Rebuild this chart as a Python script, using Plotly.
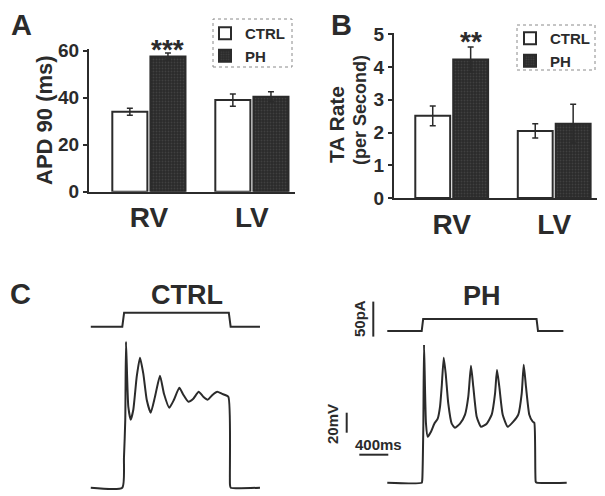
import plotly.graph_objects as go

W, H = 605, 496
OFF = 8  # page body margin of the viewer, compensated in layout positions
FONT = "Liberation Sans, Arial, sans-serif"
INK = "#2b2b2b"

# ---------------- data ----------------
regions = ["RV", "LV"]
groups = ["CTRL", "PH"]

apd_ctrl = [34.0, 39.0]
apd_ctrl_err = [1.5, 2.6]
apd_ph = [57.5, 40.4]
apd_ph_err = [1.5, 2.1]

ta_ctrl = [2.51, 2.05]
ta_ctrl_err = [0.30, 0.22]
ta_ph = [4.23, 2.27]
ta_ph_err = [0.38, 0.59]

apd_ticks = [0, 20, 40, 60]
ta_ticks = [0, 1, 2, 3, 4, 5]

# current-clamp traces (time in ms from step onset, Vm in mV above rest, I in pA)
ctrl_cmd_t = [-435, 0, 25, 1470, 1495, 1900]
ctrl_cmd_i = [0, 0, 20, 20, 0, 0]
ctrl_v_t = [-435, 0, 23, 41, 51, 83, 116, 152, 199, 244, 290, 337, 392, 451, 520, 575,
            649, 713, 787, 842, 911, 980, 1054, 1118, 1179, 1248, 1311, 1372, 1463,
            1486, 1496, 1900]
ctrl_v = [0, 0, 30, 68, 146, 81, 68, 78, 111, 130, 114, 88, 75, 91, 112, 94,
          80, 88, 100, 93, 86, 89, 96, 91, 88, 93, 96, 94, 91,
          3, 0, 0]

ph_cmd_t = [-475, 0, 20, 1585, 1605, 1955]
ph_cmd_i = [0, 0, 17, 17, 0, 0]
ph_v_t = [-475, 0, 8, 22, 32, 59, 83, 128, 174, 221, 253, 276, 304, 331, 367, 414,
          460, 529, 598, 643, 680, 712, 759, 818, 897, 966, 1012, 1039, 1071, 1118,
          1187, 1264, 1333, 1380, 1408, 1439, 1485, 1532, 1554, 1573, 1584, 2001]
ph_v = [0, 0, 3, 53, 139, 59, 46, 51, 59, 64, 76, 96, 125, 109, 79, 59,
        55, 59, 68, 86, 117, 96, 66, 56, 59, 68, 89, 113, 96, 68,
        56, 61, 68, 89, 118, 96, 68, 61, 60, 1, 0, 0]


# ---------------- helpers (pixel layout) ----------------
def pxx(x):
    return (x - OFF) / W


def pxy(y):
    return 1 - (y - OFF) / H


def xax(p0, p1, origin, ppu):
    return dict(domain=[pxx(p0), pxx(p1)], range=[(p0 - origin) / ppu, (p1 - origin) / ppu])


def yax(top, bottom, origin, ppu):
    return dict(domain=[pxy(bottom), pxy(top)], range=[(origin - bottom) / ppu, (origin - top) / ppu])


def bold(s):
    return dict(family=FONT, size=s, color=INK, weight="bold")


fig = go.Figure()

ctrl_marker = dict(color="white", line=dict(color=INK, width=2))
ph_marker = dict(color="#333333", line=dict(color=INK, width=2),
                 pattern=dict(shape=".", bgcolor="#2a2a2a", fgcolor="#555555", size=3, solidity=0.3))
err_style = dict(type="data", color=INK, thickness=1.5, width=3)

fig.add_trace(go.Bar(x=[0, 1], y=apd_ctrl, name=groups[0], marker=ctrl_marker,
                     error_y=dict(array=apd_ctrl_err, **err_style), xaxis="x", yaxis="y", legend="legend"))
fig.add_trace(go.Bar(x=[0, 1], y=apd_ph, name=groups[1], marker=ph_marker,
                     error_y=dict(array=apd_ph_err, **err_style), xaxis="x", yaxis="y", legend="legend"))
fig.add_trace(go.Bar(x=[0, 1], y=ta_ctrl, name=groups[0], marker=ctrl_marker,
                     error_y=dict(array=ta_ctrl_err, **err_style), xaxis="x2", yaxis="y2", legend="legend2"))
fig.add_trace(go.Bar(x=[0, 1], y=ta_ph, name=groups[1], marker=ph_marker,
                     error_y=dict(array=ta_ph_err, **err_style), xaxis="x2", yaxis="y2", legend="legend2"))

line_style = dict(color=INK, width=2)
trace_line = dict(color=INK, width=2, shape="spline", smoothing=0.5)
fig.add_trace(go.Scatter(x=ctrl_cmd_t, y=ctrl_cmd_i, mode="lines", line=line_style,
                         xaxis="x3", yaxis="y4", showlegend=False))
fig.add_trace(go.Scatter(x=ctrl_v_t, y=ctrl_v, mode="lines", line=trace_line,
                         xaxis="x3", yaxis="y3", showlegend=False))
fig.add_trace(go.Scatter(x=ph_cmd_t, y=ph_cmd_i, mode="lines", line=line_style,
                         xaxis="x4", yaxis="y6", showlegend=False))
fig.add_trace(go.Scatter(x=ph_v_t, y=ph_v, mode="lines", line=trace_line,
                         xaxis="x4", yaxis="y5", showlegend=False))

axis_common = dict(showline=True, linecolor=INK, linewidth=2, showgrid=False, zeroline=False,
                   fixedrange=True, automargin=False)
xbar = dict(tickvals=[0, 1], ticktext=regions, ticks="", tickfont=bold(28), **axis_common)
ybar = dict(ticks="outside", ticklen=4, tickwidth=2, tickcolor=INK, tickfont=bold(19), **axis_common)

hidden = dict(visible=False, showgrid=False, zeroline=False, fixedrange=True, automargin=False)

# bar panels
xa = xax(89, 295, 148.9, 103.0)
ya = yax(49, 191.7, 191.7, 2.35)
xb = xax(394, 598, 451.7, 102.5)
yb = yax(33, 198, 198, 32.74)

# trace panels
x3 = xax(85, 268, 122.3, 1 / 13.8)
y3 = yax(335, 494, 487.7, 1.0)
y4 = yax(300, 334, 326.7, 0.7)
x4 = xax(325, 575, 421.7, 1 / 13.8)
y5 = yax(335, 494, 482.7, 1.0)
y6 = yax(296, 345, 331, 0.7)

fig.update_layout(
    width=W, height=H, margin=dict(l=0, r=0, t=0, b=0, pad=0, autoexpand=False),
    paper_bgcolor="white", plot_bgcolor="white",
    barmode="group", bargap=0.26, bargroupgap=0.08,
    xaxis=dict(**xa, anchor="y", **xbar),
    yaxis=dict(**ya, anchor="x", tickvals=apd_ticks, **ybar),
    xaxis2=dict(**xb, anchor="y2", **xbar),
    yaxis2=dict(**yb, anchor="x2", tickvals=ta_ticks, **ybar),
    xaxis3=dict(**x3, anchor="y3", **hidden),
    yaxis3=dict(**y3, anchor="x3", **hidden),
    yaxis4=dict(**y4, anchor="x3", **hidden),
    xaxis4=dict(**x4, anchor="y5", **hidden),
    yaxis5=dict(**y5, anchor="x4", **hidden),
    yaxis6=dict(**y6, anchor="x4", **hidden),
    legend=dict(x=pxx(205), y=pxy(17), xanchor="left", yanchor="top", bgcolor="rgba(0,0,0,0)",
                font=bold(15), itemwidth=30, tracegroupgap=0),
    legend2=dict(x=pxx(510), y=pxy(22), xanchor="left", yanchor="top", bgcolor="rgba(0,0,0,0)",
                 font=bold(15), itemwidth=30, tracegroupgap=0),
    showlegend=True,
)

shapes = [
    dict(type="rect", xref="paper", yref="paper", x0=pxx(213), x1=pxx(292), y0=pxy(67), y1=pxy(19),
         line=dict(color="#8a8a8a", width=1, dash="dot")),
    dict(type="rect", xref="paper", yref="paper", x0=pxx(517), x1=pxx(595), y0=pxy(70), y1=pxy(25),
         line=dict(color="#8a8a8a", width=1, dash="dot")),
    # scale bars (PH panel)
    dict(type="line", xref="x4", yref="y6", x0=-668, x1=-668, y0=-8, y1=42, line=dict(color=INK, width=2)),
    dict(type="line", xref="x4", yref="y5", x0=-1035, x1=-1035, y0=50, y1=70, line=dict(color=INK, width=2)),
    dict(type="line", xref="x4", yref="y5", x0=-861, x1=-461, y0=28, y1=28, line=dict(color=INK, width=2)),
]
fig.update_layout(shapes=shapes)


def ann(text, x, y, size, angle=0, **kw):
    d = dict(text=text, xref="paper", yref="paper", x=pxx(x), y=pxy(y), showarrow=False,
             xanchor="center", yanchor="middle", textangle=angle, font=bold(size))
    d.update(kw)
    return d


annotations = [
    ann("A", 21, 25, 29),
    ann("B", 341, 25, 29),
    ann("C", 20, 294, 29),
    ann("APD 90 (ms)", 44, 120, 22, -90),
    ann("TA Rate", 336, 124, 21, -90),
    ann("(per Second)", 360, 110, 18, -90),
    ann("CTRL", 187, 295, 27),
    ann("PH", 482, 296, 27),
    ann("50pA", 359, 319, 15, -90),
    ann("20mV", 332, 424, 15, -90),
    ann("400ms", 378, 444, 15),
    dict(text="***", xref="x", yref="y", x=0.185, y=apd_ph[0] + apd_ph_err[0], yanchor="bottom",
         showarrow=False, font=bold(28), yshift=-14),
    dict(text="**", xref="x2", yref="y2", x=0.185, y=ta_ph[0] + ta_ph_err[0], yanchor="bottom",
         showarrow=False, font=bold(28), yshift=-12),
]
fig.update_layout(annotations=annotations)

fig.write_html("out.html")
